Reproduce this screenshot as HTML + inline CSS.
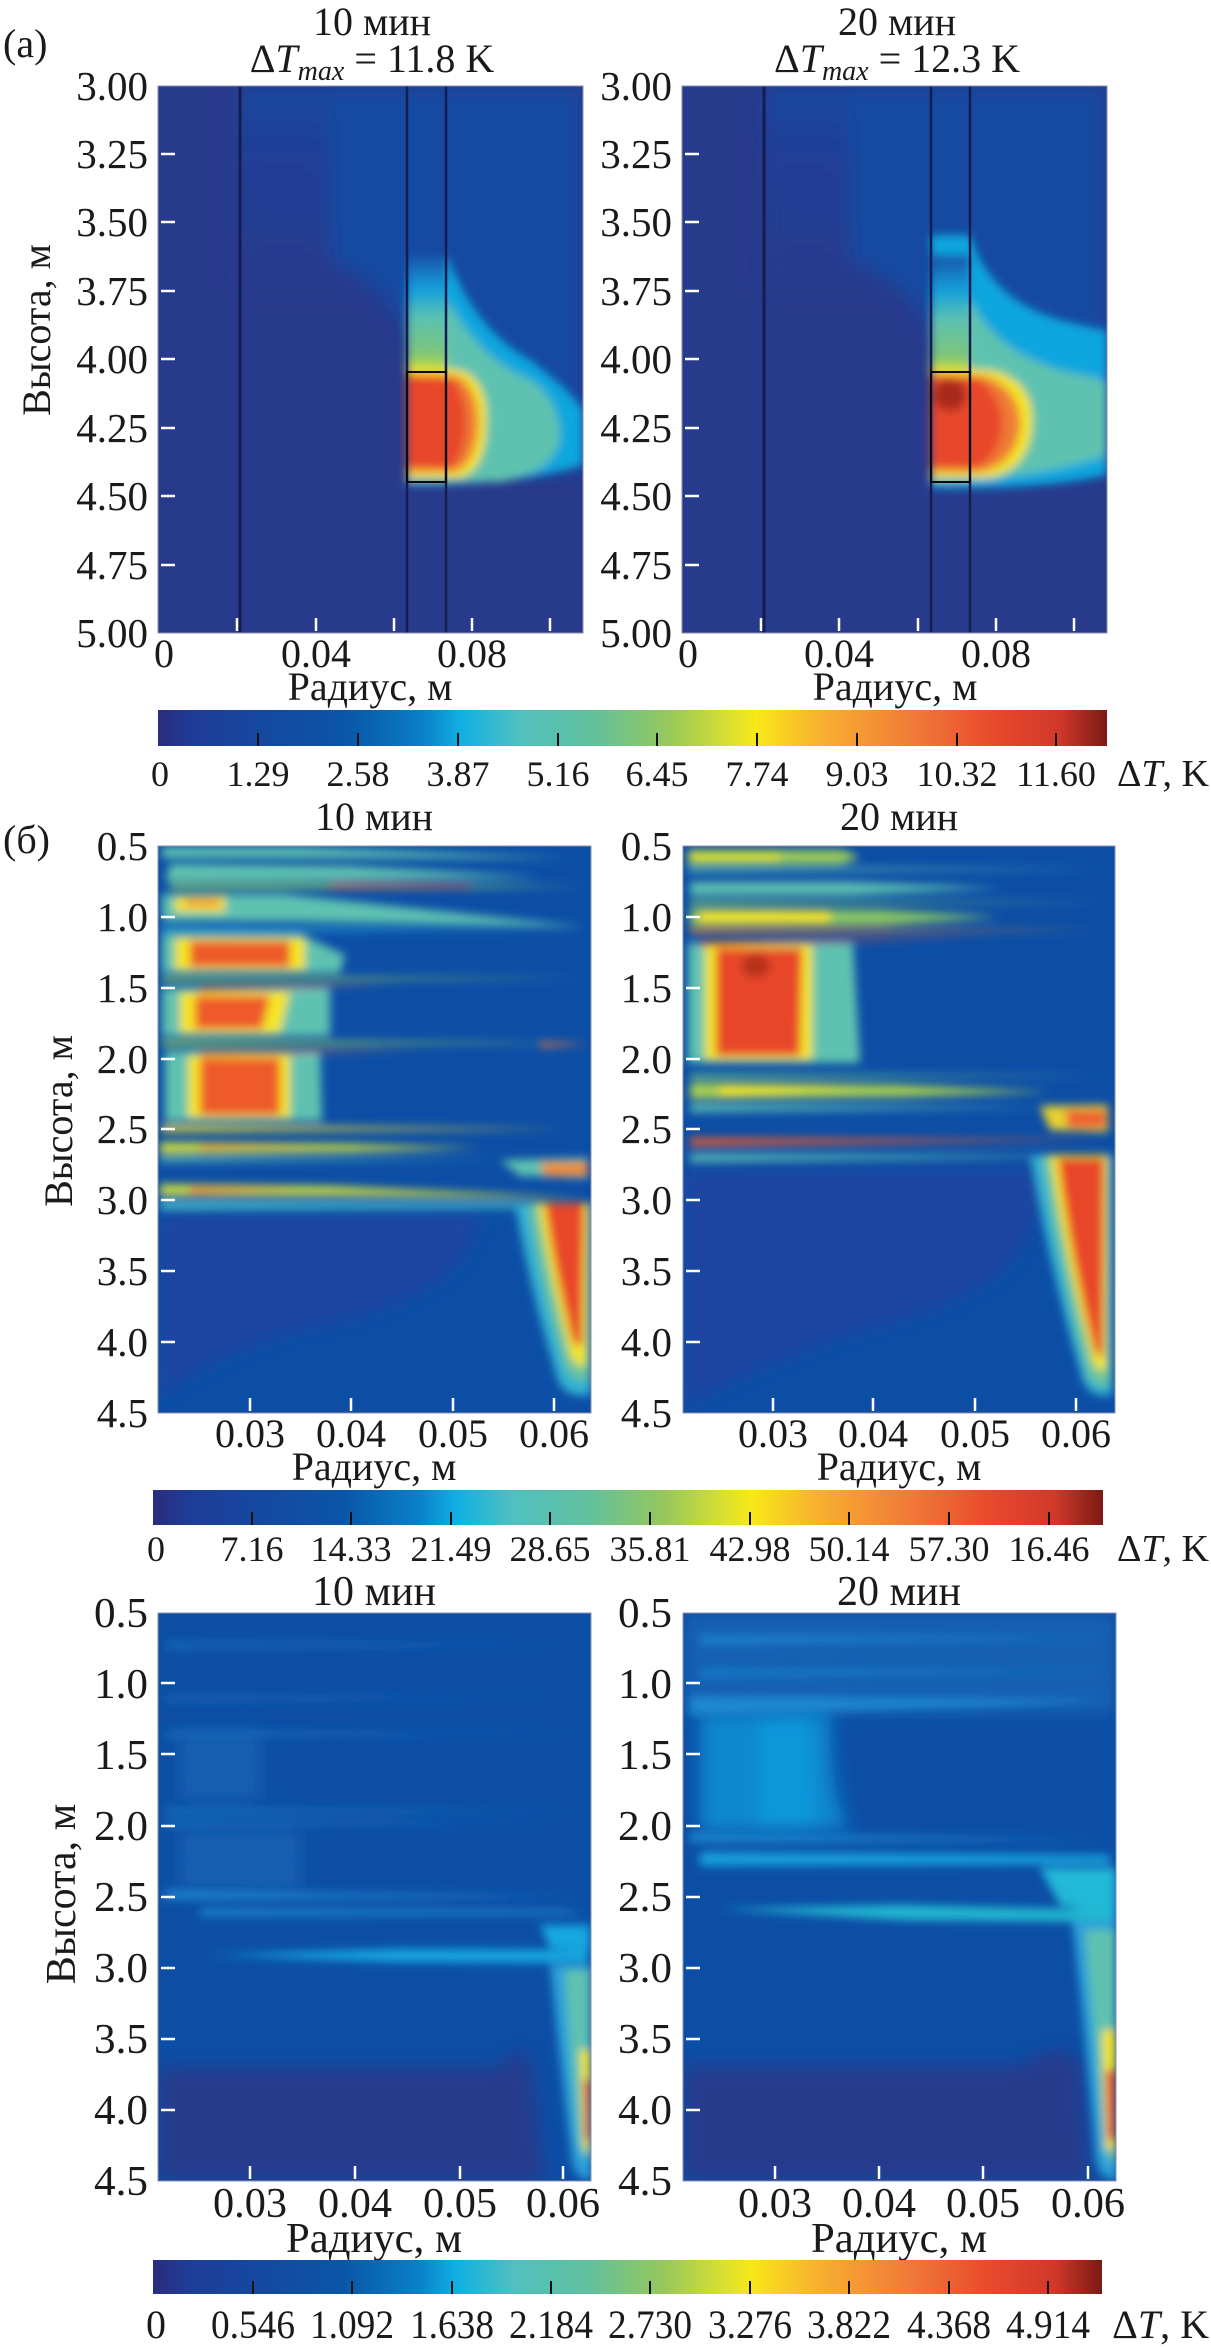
<!DOCTYPE html>
<html><head><meta charset="utf-8"><style>
html,body{margin:0;padding:0;background:#fff;}
svg{display:block;}
text{font-family:"Liberation Serif",serif;fill:#1a1a1a;}
</style></head><body>
<svg width="1211" height="2347" viewBox="0 0 1211 2347" xmlns="http://www.w3.org/2000/svg">
<defs>
<filter id="b" x="-10%" y="-30%" width="120%" height="160%"><feGaussianBlur stdDeviation="4.5"/></filter>
<filter id="b6" x="-10%" y="-10%" width="120%" height="120%"><feGaussianBlur stdDeviation="9"/></filter>
<clipPath id="ca1"><rect x="158" y="86" width="425" height="547"/></clipPath>
<clipPath id="ca2"><rect x="682" y="86" width="425" height="547"/></clipPath>
<clipPath id="cb1"><rect x="158" y="846" width="433" height="567"/></clipPath>
<clipPath id="cb2"><rect x="683" y="846" width="432" height="567"/></clipPath>
<clipPath id="cc1"><rect x="158" y="1613" width="433" height="568"/></clipPath>
<clipPath id="cc2"><rect x="683" y="1613" width="433" height="568"/></clipPath>
<linearGradient id="jet" x1="0" x2="1" y1="0" y2="0">
<stop offset="0" stop-color="#2a2c7e"/><stop offset="0.04" stop-color="#1e3d98"/>
<stop offset="0.2" stop-color="#0a56a8"/><stop offset="0.28" stop-color="#0a80c8"/>
<stop offset="0.32" stop-color="#10b0e4"/><stop offset="0.38" stop-color="#50c0c0"/>
<stop offset="0.46" stop-color="#62c09c"/><stop offset="0.54" stop-color="#98c85a"/>
<stop offset="0.6" stop-color="#d8e030"/><stop offset="0.63" stop-color="#f8e818"/>
<stop offset="0.7" stop-color="#f8b030"/><stop offset="0.8" stop-color="#f07838"/>
<stop offset="0.88" stop-color="#e84a2c"/><stop offset="0.95" stop-color="#d0382a"/>
<stop offset="1" stop-color="#7a1a14"/>
</linearGradient>
<linearGradient id="col" x1="0" x2="0" y1="0" y2="1">
<stop offset="0" stop-color="#1450a6"/><stop offset="0.3" stop-color="#12a0dc"/>
<stop offset="0.55" stop-color="#5cc2b0"/><stop offset="0.85" stop-color="#7cc47a"/>
<stop offset="1" stop-color="#c8dc3a"/>
</linearGradient>
<linearGradient id="bgA" x1="0" x2="0" y1="0" y2="1">
<stop offset="0" stop-color="#1848a0"/><stop offset="0.35" stop-color="#203f98"/><stop offset="1" stop-color="#283a8c"/>
</linearGradient>
</defs>

<!-- ===== Panel (a) ===== -->
<g clip-path="url(#ca1)">
<rect x="158" y="86" width="425" height="547" fill="#283a8c"/>
<g filter="url(#b6)">
<rect x="240" y="86" width="343" height="200" fill="url(#bgA)"/>
<path d="M330,86 L583,86 L583,470 L470,470 Q420,300 330,260 Z" fill="#184aa0"/>
</g>
<g filter="url(#b)">
<path d="M407,255 L447,255 Q475,330 530,360 Q570,390 583,410 L583,465 Q520,485 407,485 Z" fill="#10a6de"/>
<path d="M407,300 L447,300 Q480,360 530,380 Q560,400 560,440 Q550,475 500,482 L407,482 Z" fill="#5ec2b0"/>
<rect x="407" y="255" width="40" height="115" fill="url(#col)"/>
<path d="M407,368 L460,370 Q490,380 486,430 Q484,470 460,478 L407,478 Z" fill="#f4e420"/>
<path d="M407,374 L458,376 Q480,390 478,430 Q474,465 455,472 L407,472 Z" fill="#ee7a34"/>
<path d="M407,376 L452,378 Q468,400 466,430 Q462,460 450,468 L407,466 Z" fill="#e8462a"/>
</g>
<g stroke="#141c50" fill="none">
<line x1="240" y1="86" x2="240" y2="633" stroke-width="3"/>
<line x1="407" y1="86" x2="407" y2="633" stroke-width="2.5"/>
<line x1="446" y1="86" x2="446" y2="633" stroke-width="2.5"/>
<rect x="407" y="372" width="39" height="110" stroke="#0a0a0a" stroke-width="2"/>
</g>
</g>
<g clip-path="url(#ca2)">
<rect x="682" y="86" width="425" height="547" fill="#283a8c"/>
<g filter="url(#b6)">
<rect x="766" y="86" width="341" height="200" fill="url(#bgA)"/>
<path d="M850,86 L1107,86 L1107,470 L990,470 Q950,300 850,260 Z" fill="#184aa0"/>
</g>
<g filter="url(#b)">
<path d="M931,235 L970,235 Q990,300 1060,320 Q1100,330 1107,330 L1107,475 Q1040,490 931,488 Z" fill="#10a6de"/>
<path d="M931,300 L970,300 Q1000,360 1080,375 Q1107,380 1107,385 L1107,455 Q1040,478 931,482 Z" fill="#5ec2b0"/>
<rect x="931" y="255" width="39" height="118" fill="url(#col)"/>
<path d="M931,368 L990,370 Q1035,380 1032,425 Q1030,468 990,478 L931,478 Z" fill="#f4e420"/>
<path d="M931,374 L985,376 Q1022,390 1020,428 Q1015,465 980,472 L931,472 Z" fill="#ee7a34"/>
<path d="M931,376 L978,378 Q1005,400 1002,430 Q996,460 975,468 L931,466 Z" fill="#e8462a"/>
<ellipse cx="950" cy="395" rx="16" ry="16" fill="#a82a1a"/>
</g>
<g stroke="#141c50" fill="none">
<line x1="764" y1="86" x2="764" y2="633" stroke-width="3"/>
<line x1="931" y1="86" x2="931" y2="633" stroke-width="2.5"/>
<line x1="970" y1="86" x2="970" y2="633" stroke-width="2.5"/>
<rect x="931" y="372" width="39" height="110" stroke="#0a0a0a" stroke-width="2"/>
</g>
</g>
<rect x="158" y="86" width="425" height="547" fill="none" stroke="#8a90b0" stroke-width="1"/>
<rect x="682" y="86" width="425" height="547" fill="none" stroke="#8a90b0" stroke-width="1"/>
<g stroke="#fff" stroke-width="2.5">
<line x1="161" y1="154" x2="175" y2="154"/><line x1="161" y1="222" x2="175" y2="222"/><line x1="161" y1="291" x2="175" y2="291"/><line x1="161" y1="359" x2="175" y2="359"/><line x1="161" y1="428" x2="175" y2="428"/><line x1="161" y1="496" x2="175" y2="496"/><line x1="161" y1="565" x2="175" y2="565"/>
<line x1="685" y1="154" x2="699" y2="154"/><line x1="685" y1="222" x2="699" y2="222"/><line x1="685" y1="291" x2="699" y2="291"/><line x1="685" y1="359" x2="699" y2="359"/><line x1="685" y1="428" x2="699" y2="428"/><line x1="685" y1="496" x2="699" y2="496"/><line x1="685" y1="565" x2="699" y2="565"/>
<line x1="237" y1="618" x2="237" y2="631"/><line x1="316" y1="618" x2="316" y2="631"/><line x1="394" y1="618" x2="394" y2="631"/><line x1="472" y1="618" x2="472" y2="631"/><line x1="550" y1="618" x2="550" y2="631"/>
<line x1="761" y1="618" x2="761" y2="631"/><line x1="839" y1="618" x2="839" y2="631"/><line x1="918" y1="618" x2="918" y2="631"/><line x1="996" y1="618" x2="996" y2="631"/><line x1="1074" y1="618" x2="1074" y2="631"/>
</g>
<g font-size="41" text-anchor="end">
<text x="148" y="100">3.00</text><text x="148" y="168">3.25</text><text x="148" y="236">3.50</text><text x="148" y="305">3.75</text><text x="148" y="373">4.00</text><text x="148" y="442">4.25</text><text x="148" y="510">4.50</text><text x="148" y="579">4.75</text><text x="148" y="647">5.00</text>
<text x="672" y="100">3.00</text><text x="672" y="168">3.25</text><text x="672" y="236">3.50</text><text x="672" y="305">3.75</text><text x="672" y="373">4.00</text><text x="672" y="442">4.25</text><text x="672" y="510">4.50</text><text x="672" y="579">4.75</text><text x="672" y="647">5.00</text>
</g>
<g font-size="40" text-anchor="middle">
<text x="164" y="667">0</text><text x="316" y="667">0.04</text><text x="472" y="667">0.08</text>
<text x="688" y="667">0</text><text x="839" y="667">0.04</text><text x="996" y="667">0.08</text>
<text x="370" y="700">Радиус, м</text><text x="895" y="700">Радиус, м</text>
<text x="372" y="35">10 мин</text><text x="897" y="35">20 мин</text>
<text x="372" y="72">Δ<tspan font-style="italic">T</tspan><tspan font-style="italic" font-size="28" dy="8">max</tspan><tspan dy="-8"> = 11.8 K</tspan></text>
<text x="897" y="72">Δ<tspan font-style="italic">T</tspan><tspan font-style="italic" font-size="28" dy="8">max</tspan><tspan dy="-8"> = 12.3 K</tspan></text>
</g>
<text x="3" y="57" font-size="40">(a)</text>
<text transform="translate(50,330) rotate(-90)" font-size="40" text-anchor="middle">Высота, м</text>

<rect x="158" y="710" width="949" height="36" fill="url(#jet)"/>
<g stroke="#111" stroke-width="2">
<line x1="258" y1="733" x2="258" y2="746"/><line x1="358" y1="733" x2="358" y2="746"/><line x1="458" y1="733" x2="458" y2="746"/><line x1="558" y1="733" x2="558" y2="746"/><line x1="657" y1="733" x2="657" y2="746"/><line x1="757" y1="733" x2="757" y2="746"/><line x1="857" y1="733" x2="857" y2="746"/><line x1="957" y1="733" x2="957" y2="746"/><line x1="1056" y1="733" x2="1056" y2="746"/>
</g>
<g font-size="36" text-anchor="middle">
<text x="160" y="786">0</text><text x="258" y="786">1.29</text><text x="358" y="786">2.58</text><text x="458" y="786">3.87</text><text x="558" y="786">5.16</text><text x="657" y="786">6.45</text><text x="757" y="786">7.74</text><text x="857" y="786">9.03</text><text x="957" y="786">10.32</text><text x="1056" y="786">11.60</text>
</g>
<text x="1209" y="786" font-size="38" text-anchor="end">Δ<tspan font-style="italic">T</tspan>, K</text>

<!-- ===== Panel (б) ===== -->
<g clip-path="url(#cb1)">
<rect x="158" y="846" width="433" height="567" fill="#0c4ea6"/>
<g filter="url(#b6)"><path d="M158,1215 L480,1215 Q470,1300 300,1330 Q200,1360 158,1400 Z" fill="#1a44a0"/></g>
<g filter="url(#b)">
<path d="M162,847 L300,847 L567,858 L300,858 L162,858 Z" fill="#5ec2b0"/>
<path d="M170,864 L350,866 L540,877 L350,880 L165,881 Z" fill="#5ec2b0"/>
<path d="M170,883 L300,883 L483,885 L585,886 L483,888 L170,889 Z" fill="#7ec474"/>
<path d="M330,884 L470,885 L470,888 L330,888 Z" fill="#f07838"/>
<path d="M162,894 L283,894 L585,927 L283,921 L162,921 Z" fill="#5ec2b0"/>
<path d="M175,897 L225,896 L225,912 L175,912 Z" fill="#f4e420"/>
<path d="M185,899 L220,899 L220,906 L185,906 Z" fill="#f08a30"/>
<path d="M162,927 L582,929 L162,932 Z" fill="#20b0d8"/>
<path d="M162,934 L300,934 L345,955 L340,973 L162,973 Z" fill="#5ec2b0"/>
<path d="M175,938 L305,938 L305,970 L175,970 Z" fill="#f4e420"/>
<path d="M190,941 L290,941 L290,967 L190,967 Z" fill="#ee5a2c"/>
<path d="M162,977 L583,978 L162,982 Z" fill="#8cc860"/>
<path d="M162,988 L330,988 L330,1036 L162,1036 Z" fill="#5ec2b0"/>
<path d="M180,992 L290,992 L280,1033 L180,1033 Z" fill="#f4e420"/>
<path d="M195,996 L270,996 L262,1029 L195,1029 Z" fill="#ee5a2c"/>
<path d="M200,988 L400,984 L200,992 Z" fill="#f07838"/>
<path d="M162,1040 L585,1043 L162,1046 Z" fill="#8cc860"/>
<path d="M540,1042 L588,1044 L540,1047 Z" fill="#f07838"/>
<path d="M165,1051 L320,1051 L322,1121 L165,1121 Z" fill="#5ec2b0"/>
<path d="M188,1055 L290,1055 L290,1118 L188,1118 Z" fill="#f4e420"/>
<path d="M200,1058 L280,1058 L280,1115 L200,1115 Z" fill="#ee5a2c"/>
<path d="M200,1052 L420,1050 L200,1056 Z" fill="#f07838"/>
<path d="M162,1125 L570,1129 L162,1132 Z" fill="#e8d830"/>
<path d="M160,1142 L350,1144 L480,1148 L350,1152 L160,1154 Z" fill="#c8d840"/>
<path d="M200,1145 L320,1146 L200,1150 Z" fill="#f08a30"/>
<path d="M160,1157 L500,1159 L160,1162 Z" fill="#5ec2b0"/>
<path d="M500,1160 L588,1158 L588,1178 L520,1176 Z" fill="#5ec2b0"/>
<path d="M540,1162 L588,1162 L588,1176 L545,1176 Z" fill="#f08a30"/>
<path d="M160,1184 L330,1186 L585,1198 L330,1196 L160,1196 Z" fill="#c8d840"/>
<path d="M190,1187 L300,1189 L190,1194 Z" fill="#f07838"/>
<path d="M160,1201 L588,1203 L588,1208 L160,1210 Z" fill="#40b8c8"/>
<path d="M515,1203 L591,1203 L591,1395 Q560,1400 555,1370 Q530,1290 515,1203 Z" fill="#30b0d0"/>
<path d="M528,1203 L591,1203 L591,1380 Q570,1385 563,1360 Q540,1280 528,1203 Z" fill="#6cc49a"/>
<path d="M538,1203 L588,1203 L586,1365 Q572,1370 568,1345 Q548,1270 538,1203 Z" fill="#f4e420"/>
<path d="M545,1203 L584,1203 L582,1345 Q574,1350 570,1330 Q553,1260 545,1203 Z" fill="#e8462a"/>
</g>
</g>
<g clip-path="url(#cb2)">
<rect x="683" y="846" width="432" height="567" fill="#0c4ea6"/>
<g filter="url(#b6)"><path d="M683,1170 L1040,1170 Q1050,1280 900,1320 Q760,1360 683,1410 Z" fill="#1a44a0"/></g>
<g filter="url(#b)">
<path d="M688,850 L842,850 L860,857 L842,864 L688,864 Z" fill="#9ccc58"/>
<path d="M690,852 L780,852 L780,862 L690,862 Z" fill="#d8e030"/>
<path d="M688,867 L1103,869 L688,872 Z" fill="#5ec2b0"/>
<path d="M690,882 L850,882 L1000,888 L850,895 L690,895 Z" fill="#5ec2b0"/>
<path d="M690,900 L1105,902 L690,905 Z" fill="#7cc47a"/>
<path d="M690,909 L880,910 L1000,917 L880,925 L690,925 Z" fill="#8cc860"/>
<path d="M700,911 L830,911 L830,923 L700,923 Z" fill="#f4e420"/>
<path d="M690,928 L1105,930 L690,933 Z" fill="#f08a30"/>
<path d="M688,943 L853,943 L860,1063 L688,1063 Z" fill="#5ec2b0"/>
<path d="M705,945 L812,945 L812,1060 L705,1060 Z" fill="#f4e420"/>
<path d="M716,948 L802,948 L800,1056 L716,1056 Z" fill="#e8462a"/>
<ellipse cx="756" cy="966" rx="14" ry="12" fill="#b8301e"/>
<path d="M700,942 L1000,936 L700,946 Z" fill="#e8462a"/>
<path d="M690,1074 L1105,1076 L690,1079 Z" fill="#6cc48a"/>
<path d="M690,1083 L900,1085 L1050,1092 L900,1097 L690,1099 Z" fill="#a8d050"/>
<path d="M720,1086 L860,1088 L720,1096 Z" fill="#f4e420"/>
<path d="M690,1104 L1050,1107 L690,1112 Z" fill="#5ec2b0"/>
<path d="M1040,1106 L1108,1105 L1108,1132 L1050,1130 Z" fill="#e8d030"/>
<path d="M1065,1110 L1106,1110 L1106,1128 L1068,1128 Z" fill="#ee6030"/>
<path d="M690,1138 L1102,1140 L690,1146 Z" fill="#ee5a2c"/>
<path d="M690,1154 L1106,1156 L690,1162 Z" fill="#5ec2b0"/>
<path d="M1030,1155 L1112,1155 L1112,1395 Q1085,1400 1080,1370 Q1050,1270 1030,1155 Z" fill="#30b0d0"/>
<path d="M1042,1155 L1110,1155 L1110,1385 Q1090,1390 1085,1365 Q1058,1260 1042,1155 Z" fill="#6cc49a"/>
<path d="M1050,1155 L1107,1155 L1106,1370 Q1094,1375 1090,1350 Q1063,1250 1050,1155 Z" fill="#f4e420"/>
<path d="M1058,1158 L1104,1158 L1103,1355 Q1096,1360 1092,1340 Q1070,1250 1058,1158 Z" fill="#e8462a"/>
</g>
</g>
<rect x="158" y="846" width="433" height="567" fill="none" stroke="#8a90b0" stroke-width="1"/>
<rect x="683" y="846" width="432" height="567" fill="none" stroke="#8a90b0" stroke-width="1"/>
<g stroke="#fff" stroke-width="2.5">
<line x1="161" y1="917" x2="175" y2="917"/><line x1="161" y1="988" x2="175" y2="988"/><line x1="161" y1="1059" x2="175" y2="1059"/><line x1="161" y1="1129" x2="175" y2="1129"/><line x1="161" y1="1200" x2="175" y2="1200"/><line x1="161" y1="1271" x2="175" y2="1271"/><line x1="161" y1="1342" x2="175" y2="1342"/>
<line x1="686" y1="917" x2="700" y2="917"/><line x1="686" y1="988" x2="700" y2="988"/><line x1="686" y1="1059" x2="700" y2="1059"/><line x1="686" y1="1129" x2="700" y2="1129"/><line x1="686" y1="1200" x2="700" y2="1200"/><line x1="686" y1="1271" x2="700" y2="1271"/><line x1="686" y1="1342" x2="700" y2="1342"/>
<line x1="250" y1="1398" x2="250" y2="1411"/><line x1="351" y1="1398" x2="351" y2="1411"/><line x1="453" y1="1398" x2="453" y2="1411"/><line x1="554" y1="1398" x2="554" y2="1411"/>
<line x1="773" y1="1398" x2="773" y2="1411"/><line x1="873" y1="1398" x2="873" y2="1411"/><line x1="975" y1="1398" x2="975" y2="1411"/><line x1="1076" y1="1398" x2="1076" y2="1411"/>
</g>
<g font-size="41" text-anchor="end">
<text x="148" y="860">0.5</text><text x="148" y="931">1.0</text><text x="148" y="1002">1.5</text><text x="148" y="1073">2.0</text><text x="148" y="1143">2.5</text><text x="148" y="1214">3.0</text><text x="148" y="1285">3.5</text><text x="148" y="1356">4.0</text><text x="148" y="1427">4.5</text>
<text x="672" y="860">0.5</text><text x="672" y="931">1.0</text><text x="672" y="1002">1.5</text><text x="672" y="1073">2.0</text><text x="672" y="1143">2.5</text><text x="672" y="1214">3.0</text><text x="672" y="1285">3.5</text><text x="672" y="1356">4.0</text><text x="672" y="1427">4.5</text>
</g>
<g font-size="40" text-anchor="middle">
<text x="250" y="1447">0.03</text><text x="351" y="1447">0.04</text><text x="453" y="1447">0.05</text><text x="554" y="1447">0.06</text>
<text x="773" y="1447">0.03</text><text x="873" y="1447">0.04</text><text x="975" y="1447">0.05</text><text x="1076" y="1447">0.06</text>
<text x="374" y="1480">Радиус, м</text><text x="899" y="1480">Радиус, м</text>
<text x="374" y="830">10 мин</text><text x="899" y="830">20 мин</text>
</g>
<text x="3" y="853" font-size="40">(б)</text>
<text transform="translate(72,1121) rotate(-90)" font-size="40" text-anchor="middle">Высота, м</text>
<rect x="153" y="1490" width="950" height="35" fill="url(#jet)"/>
<g stroke="#111" stroke-width="2">
<line x1="252" y1="1512" x2="252" y2="1525"/><line x1="351" y1="1512" x2="351" y2="1525"/><line x1="451" y1="1512" x2="451" y2="1525"/><line x1="550" y1="1512" x2="550" y2="1525"/><line x1="650" y1="1512" x2="650" y2="1525"/><line x1="750" y1="1512" x2="750" y2="1525"/><line x1="849" y1="1512" x2="849" y2="1525"/><line x1="949" y1="1512" x2="949" y2="1525"/><line x1="1049" y1="1512" x2="1049" y2="1525"/>
</g>
<g font-size="36" text-anchor="middle">
<text x="156" y="1561">0</text><text x="252" y="1561">7.16</text><text x="351" y="1561">14.33</text><text x="451" y="1561">21.49</text><text x="550" y="1561">28.65</text><text x="650" y="1561">35.81</text><text x="750" y="1561">42.98</text><text x="849" y="1561">50.14</text><text x="949" y="1561">57.30</text><text x="1049" y="1561">16.46</text>
</g>
<text x="1209" y="1561" font-size="38" text-anchor="end">Δ<tspan font-style="italic">T</tspan>, K</text>

<!-- ===== Panel (c) ===== -->
<g clip-path="url(#cc1)">
<rect x="158" y="1613" width="433" height="568" fill="#0c4ea6"/>
<g filter="url(#b6)">
<path d="M158,2068 L500,2068 Q520,2040 530,2060 L545,2181 L158,2181 Z" fill="#283a8c"/>
<rect x="180" y="1730" width="80" height="70" fill="#1460b0"/>
<rect x="180" y="1830" width="120" height="60" fill="#1460b0"/>
</g>
<g filter="url(#b)">
<path d="M165,1640 L560,1645 L165,1650 Z" fill="#1462b4"/>
<path d="M165,1695 L560,1697 L165,1702 Z" fill="#1462b4"/>
<path d="M165,1731 L585,1733 L165,1738 Z" fill="#1668b8"/>
<path d="M165,1808 L585,1811 L165,1815 Z" fill="#1670bc"/>
<path d="M165,1820 L560,1822 L165,1828 Z" fill="#1468b8"/>
<path d="M165,1890 L588,1897 L165,1900 Z" fill="#1a80cc"/>
<path d="M200,1909 L560,1910 L588,1914 L200,1916 Z" fill="#1a88d0"/>
<path d="M540,1925 L590,1925 L590,1950 L550,1948 Z" fill="#18a8e0"/>
<path d="M210,1955 L400,1949 L588,1950 L588,1963 L400,1962 Z" fill="#18a8e0"/>
<path d="M550,1965 L591,1965 L591,2180 Q575,2180 572,2160 Q560,2060 550,1965 Z" fill="#2aa0d8"/>
<path d="M565,1970 L591,1970 L591,2160 Q582,2160 578,2140 Q570,2060 565,1970 Z" fill="#5ec2b0"/>
<path d="M580,2050 L591,2050 L591,2150 L584,2150 Z" fill="#f4e420"/>
<path d="M584,2080 L591,2080 L591,2140 L586,2140 Z" fill="#e8462a"/>
</g>
</g>
<g clip-path="url(#cc2)">
<rect x="683" y="1613" width="433" height="568" fill="#0c4ea6"/>
<g filter="url(#b6)">
<rect x="683" y="1613" width="433" height="100" fill="#1360b2"/>
<path d="M683,2066 L1020,2066 Q1060,2040 1080,2060 L1090,2181 L683,2181 Z" fill="#283a8c"/>
<path d="M700,1715 L830,1712 Q830,1800 850,1830 L700,1832 Z" fill="#0e88d0"/>
<path d="M760,1720 L810,1720 L815,1830 L760,1830 Z" fill="#0c98dc"/>
</g>
<g filter="url(#b)">
<path d="M700,1635 L1110,1638 L700,1645 Z" fill="#1a80cc"/>
<path d="M700,1668 L1110,1671 L700,1678 Z" fill="#1878c8"/>
<path d="M690,1696 L1110,1700 L1000,1706 L690,1715 Z" fill="#1a88d0"/>
<path d="M690,1833 L1108,1840 L690,1842 Z" fill="#1a88d0"/>
<path d="M700,1852 L1110,1855 L1110,1864 L700,1866 Z" fill="#18a0dc"/>
<path d="M1040,1868 L1116,1868 L1116,1915 L1060,1905 Z" fill="#20b8d8"/>
<path d="M720,1909 L900,1905 L1116,1910 L1116,1922 L900,1920 Z" fill="#20b8d0"/>
<path d="M1072,1920 L1116,1920 L1116,2180 Q1100,2180 1096,2160 Q1085,2030 1072,1920 Z" fill="#2aa0d8"/>
<path d="M1085,1930 L1116,1930 L1116,2165 Q1107,2165 1104,2145 Q1095,2040 1085,1930 Z" fill="#5ec2b0"/>
<path d="M1102,2030 L1116,2030 L1116,2150 L1106,2150 Z" fill="#f4e420"/>
<path d="M1106,2070 L1116,2070 L1116,2140 L1108,2140 Z" fill="#e8462a"/>
</g>
</g>
<rect x="158" y="1613" width="433" height="568" fill="none" stroke="#8a90b0" stroke-width="1"/>
<rect x="683" y="1613" width="433" height="568" fill="none" stroke="#8a90b0" stroke-width="1"/>
<g stroke="#fff" stroke-width="2.5">
<line x1="161" y1="1683" x2="175" y2="1683"/><line x1="161" y1="1754" x2="175" y2="1754"/><line x1="161" y1="1826" x2="175" y2="1826"/><line x1="161" y1="1897" x2="175" y2="1897"/><line x1="161" y1="1968" x2="175" y2="1968"/><line x1="161" y1="2039" x2="175" y2="2039"/><line x1="161" y1="2110" x2="175" y2="2110"/>
<line x1="686" y1="1683" x2="700" y2="1683"/><line x1="686" y1="1754" x2="700" y2="1754"/><line x1="686" y1="1826" x2="700" y2="1826"/><line x1="686" y1="1897" x2="700" y2="1897"/><line x1="686" y1="1968" x2="700" y2="1968"/><line x1="686" y1="2039" x2="700" y2="2039"/><line x1="686" y1="2110" x2="700" y2="2110"/>
<line x1="250" y1="2166" x2="250" y2="2179"/><line x1="355" y1="2166" x2="355" y2="2179"/><line x1="460" y1="2166" x2="460" y2="2179"/><line x1="563" y1="2166" x2="563" y2="2179"/>
<line x1="775" y1="2166" x2="775" y2="2179"/><line x1="879" y1="2166" x2="879" y2="2179"/><line x1="983" y1="2166" x2="983" y2="2179"/><line x1="1088" y1="2166" x2="1088" y2="2179"/>
</g>
<g font-size="42" text-anchor="end">
<text x="148" y="1627" textLength="54" lengthAdjust="spacingAndGlyphs">0.5</text><text x="148" y="1698" textLength="54" lengthAdjust="spacingAndGlyphs">1.0</text><text x="148" y="1769" textLength="54" lengthAdjust="spacingAndGlyphs">1.5</text><text x="148" y="1840" textLength="54" lengthAdjust="spacingAndGlyphs">2.0</text><text x="148" y="1911" textLength="54" lengthAdjust="spacingAndGlyphs">2.5</text><text x="148" y="1982" textLength="54" lengthAdjust="spacingAndGlyphs">3.0</text><text x="148" y="2053" textLength="54" lengthAdjust="spacingAndGlyphs">3.5</text><text x="148" y="2124" textLength="54" lengthAdjust="spacingAndGlyphs">4.0</text><text x="148" y="2195" textLength="54" lengthAdjust="spacingAndGlyphs">4.5</text>
<text x="672" y="1627" textLength="54" lengthAdjust="spacingAndGlyphs">0.5</text><text x="672" y="1698" textLength="54" lengthAdjust="spacingAndGlyphs">1.0</text><text x="672" y="1769" textLength="54" lengthAdjust="spacingAndGlyphs">1.5</text><text x="672" y="1840" textLength="54" lengthAdjust="spacingAndGlyphs">2.0</text><text x="672" y="1911" textLength="54" lengthAdjust="spacingAndGlyphs">2.5</text><text x="672" y="1982" textLength="54" lengthAdjust="spacingAndGlyphs">3.0</text><text x="672" y="2053" textLength="54" lengthAdjust="spacingAndGlyphs">3.5</text><text x="672" y="2124" textLength="54" lengthAdjust="spacingAndGlyphs">4.0</text><text x="672" y="2195" textLength="54" lengthAdjust="spacingAndGlyphs">4.5</text>
</g>
<g font-size="42" text-anchor="middle">
<text x="250" y="2217" textLength="74" lengthAdjust="spacingAndGlyphs">0.03</text><text x="355" y="2217" textLength="74" lengthAdjust="spacingAndGlyphs">0.04</text><text x="460" y="2217" textLength="74" lengthAdjust="spacingAndGlyphs">0.05</text><text x="563" y="2217" textLength="74" lengthAdjust="spacingAndGlyphs">0.06</text>
<text x="775" y="2217" textLength="74" lengthAdjust="spacingAndGlyphs">0.03</text><text x="879" y="2217" textLength="74" lengthAdjust="spacingAndGlyphs">0.04</text><text x="983" y="2217" textLength="74" lengthAdjust="spacingAndGlyphs">0.05</text><text x="1088" y="2217" textLength="74" lengthAdjust="spacingAndGlyphs">0.06</text>
<text x="374" y="2252" textLength="176" lengthAdjust="spacingAndGlyphs">Радиус, м</text><text x="899" y="2252" textLength="176" lengthAdjust="spacingAndGlyphs">Радиус, м</text>
<text x="374" y="1605" textLength="124" lengthAdjust="spacingAndGlyphs">10 мин</text><text x="899" y="1605" textLength="124" lengthAdjust="spacingAndGlyphs">20 мин</text>
</g>
<text transform="translate(75,1894) rotate(-90)" font-size="42" text-anchor="middle">Высота, м</text>
<rect x="153" y="2260" width="949" height="34" fill="url(#jet)"/>
<g stroke="#111" stroke-width="2">
<line x1="253" y1="2281" x2="253" y2="2294"/><line x1="352" y1="2281" x2="352" y2="2294"/><line x1="452" y1="2281" x2="452" y2="2294"/><line x1="551" y1="2281" x2="551" y2="2294"/><line x1="650" y1="2281" x2="650" y2="2294"/><line x1="750" y1="2281" x2="750" y2="2294"/><line x1="849" y1="2281" x2="849" y2="2294"/><line x1="949" y1="2281" x2="949" y2="2294"/><line x1="1048" y1="2281" x2="1048" y2="2294"/>
</g>
<g font-size="40" text-anchor="middle">
<text x="156" y="2338">0</text><text x="253" y="2338" textLength="84" lengthAdjust="spacingAndGlyphs">0.546</text><text x="352" y="2338" textLength="84" lengthAdjust="spacingAndGlyphs">1.092</text><text x="452" y="2338" textLength="84" lengthAdjust="spacingAndGlyphs">1.638</text><text x="551" y="2338" textLength="84" lengthAdjust="spacingAndGlyphs">2.184</text><text x="650" y="2338" textLength="84" lengthAdjust="spacingAndGlyphs">2.730</text><text x="750" y="2338" textLength="84" lengthAdjust="spacingAndGlyphs">3.276</text><text x="849" y="2338" textLength="84" lengthAdjust="spacingAndGlyphs">3.822</text><text x="949" y="2338" textLength="84" lengthAdjust="spacingAndGlyphs">4.368</text><text x="1048" y="2338" textLength="84" lengthAdjust="spacingAndGlyphs">4.914</text>
</g>
<text x="1209" y="2338" font-size="40" text-anchor="end">Δ<tspan font-style="italic">T</tspan>, K</text>
</svg>
</body></html>
